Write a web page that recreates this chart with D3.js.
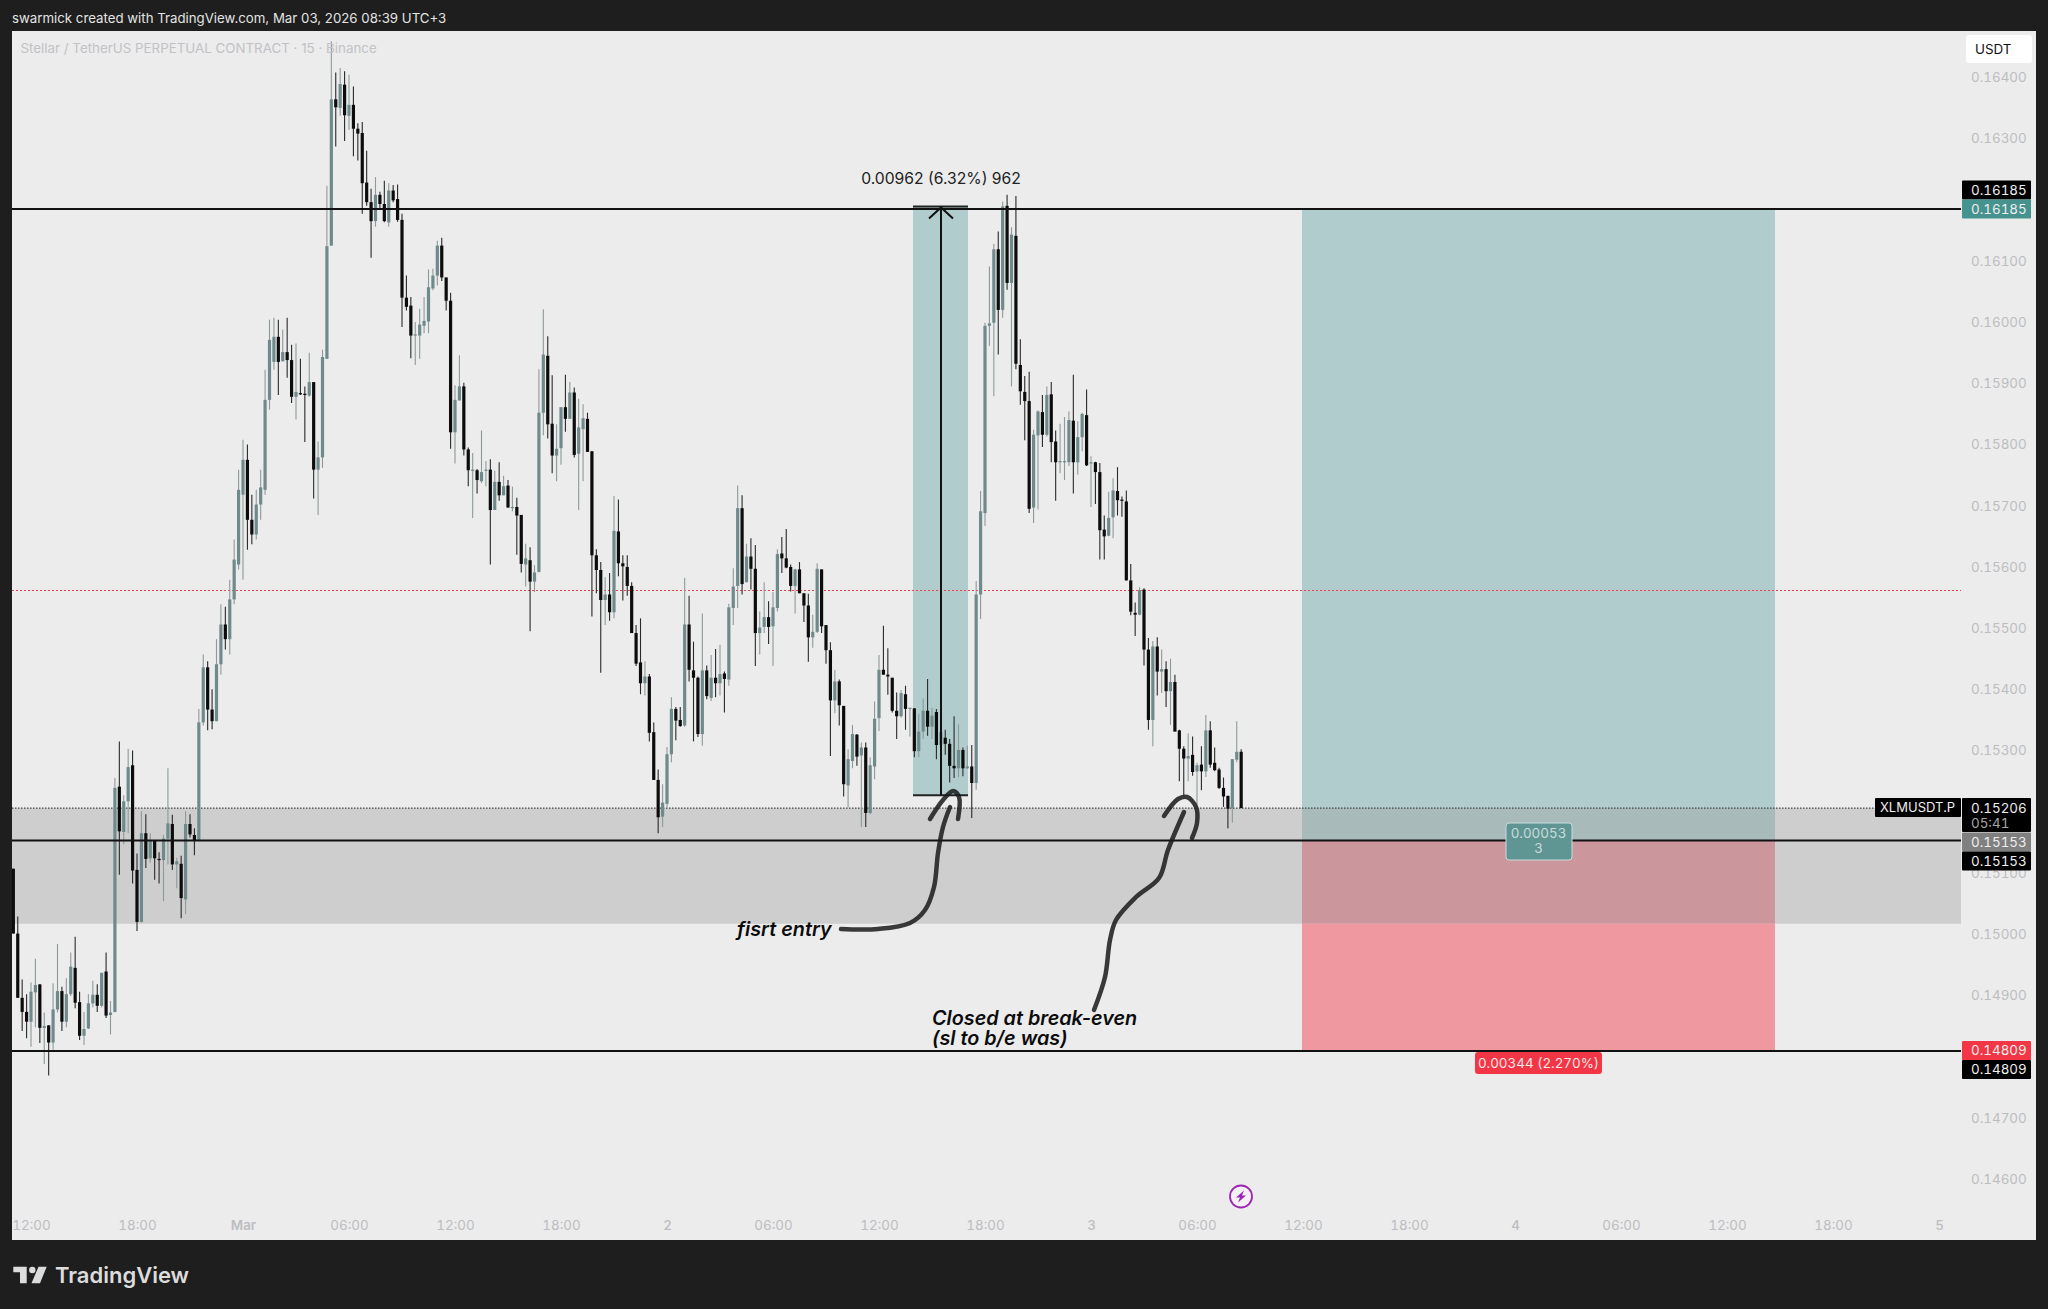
<!DOCTYPE html>
<html>
<head>
<meta charset="utf-8">
<script src="https://cdn.jsdelivr.net/npm/d3@7"></script>
<style>
  html, body { margin: 0; padding: 0; background: #1e1e1e; }
  svg { display: block; font-family: Inter, "Noto Sans", sans-serif; }
  svg text { font-variant-numeric: tabular-nums; }
  svg text.plain { font-variant-numeric: normal; }
</style>
</head>
<body>
<svg width="2048" height="1309"></svg>
<script>
// prices in 1e-5 USDT, one entry per 15 min candle, first candle 2026-02-28 11:00
const startTime = "2026-02-28T11:00:00Z";

const opens = [
15107,15001,14896,14873,14857,14905,14918,14847,14851,14823,
14877,14907,14857,14902,14945,14889,14834,14846,14887,14901,
14883,14939,14868,14873,15241,15167,15217,15276,15105,15020,
15165,15124,15153,15123,15121,15156,15180,15114,15115,15057,
15180,15162,15153,15346,15436,15367,15348,15441,15506,15482,
15547,15604,15718,15775,15677,15653,15702,15726,15873,15935,
15976,15936,15951,15938,15878,15884,15883,15880,15902,15759,
15779,15940,16125,16364,16350,16388,16337,16355,16316,16309,
16228,16196,16165,16208,16193,16163,16215,16201,16167,16040,
16027,15978,15978,15994,16001,16055,16076,16125,16073,16035,
15820,15872,15895,15792,15757,15758,15740,15757,15759,15693,
15739,15717,15733,15696,15698,15685,15604,15611,15576,15592,
15852,15945,15834,15782,15794,15861,15842,15885,15785,15825,
15842,15789,15619,15595,15546,15555,15526,15658,15606,15600,
15569,15492,15444,15410,15421,15330,15252,15192,15213,15294,
15368,15350,15341,15506,15431,15419,15327,15431,15386,15419,
15410,15426,15416,15533,15569,15696,15575,15617,15597,15492,
15502,15518,15503,15533,15622,15614,15600,15569,15596,15557,
15537,15485,15494,15596,15505,15464,15382,15413,15373,15243,
15283,15326,15292,15305,15198,15274,15353,15432,15424,15419,
15365,15356,15392,15368,15369,15299,15331,15365,15339,15363,
15309,15321,15311,15275,15271,15301,15271,15274,15247,15555,
15688,15994,15999,16119,16020,16190,16064,16141,15930,15886,
15871,15697,15815,15853,15816,15882,15805,15771,15771,15771,
15839,15771,15812,15848,15769,15771,15755,15661,15651,15681,
15724,15710,15707,15578,15525,15522,15563,15465,15350,15470,
15429,15433,15397,15412,15333,15303,15287,15293,15266,15277,
15266,15333,15280,15269,15239,15226,15206,15285,15298];

const highs = [
15107,15029,14926,14902,14921,14960,14918,14872,14851,14920,
14984,14914,14928,14970,14996,14906,14873,14902,14924,14918,
14937,14970,14891,15255,15315,15227,15303,15300,15132,15201,
15196,15165,15153,15134,15162,15271,15195,15125,15128,15201,
15196,15173,15368,15457,15446,15400,15482,15539,15535,15579,
15645,15759,15808,15800,15718,15726,15759,15922,16004,16007,
16004,15988,16007,15963,15965,15940,15895,15950,15902,15805,
15955,16223,16459,16408,16415,16410,16404,16385,16325,16327,
16280,16218,16237,16213,16231,16227,16224,16225,16177,16076,
16041,16000,16022,16041,16086,16087,16133,16138,16073,16048,
15897,15946,15901,15795,15786,15760,15823,15773,15776,15757,
15771,15749,15742,15731,15713,15685,15638,15632,15603,15923,
16021,15977,15913,15833,15861,15914,15902,15893,15875,15866,
15852,15789,15629,15608,15583,15590,15716,15710,15619,15619,
15575,15505,15516,15446,15425,15346,15269,15245,15306,15387,
15371,15371,15582,15553,15478,15421,15524,15439,15456,15466,
15473,15429,15540,15598,15733,15717,15638,15647,15636,15527,
15575,15544,15559,15629,15649,15662,15604,15597,15608,15557,
15556,15522,15606,15596,15505,15477,15432,15416,15373,15302,
15342,15327,15313,15313,15289,15380,15456,15504,15467,15419,
15395,15399,15406,15370,15369,15360,15385,15417,15370,15368,
15330,15334,15319,15356,15343,15305,15308,15309,15577,15724,
15999,16091,16128,16148,16197,16208,16155,16206,15972,15912,
15919,15824,15856,15881,15895,15902,15823,15834,15845,15854,
15914,15838,15852,15890,15781,15772,15770,15684,15723,15745,
15763,15715,15725,15605,15542,15567,15565,15484,15479,15485,
15465,15446,15450,15424,15334,15307,15328,15323,15280,15307,
15358,15348,15305,15272,15256,15226,15286,15348,15302];

const lows = [
15001,14896,14842,14830,14816,14848,14822,14788,14769,14811,
14872,14842,14848,14899,14879,14827,14819,14845,14880,14873,
14880,14863,14836,14872,15097,15147,15165,15083,15005,15019,
15108,15117,15089,15083,15054,15114,15105,15075,15026,15033,
15158,15129,15153,15341,15333,15335,15348,15424,15465,15457,
15539,15596,15579,15628,15637,15645,15677,15718,15857,15922,
15881,15936,15909,15868,15841,15881,15804,15878,15712,15685,
15762,15940,16125,16287,16337,16296,16314,16271,16264,16177,
16190,16105,16156,16186,16163,16156,16196,16164,15992,16019,
15941,15930,15940,15982,15982,16052,16060,16067,16019,15793,
15769,15872,15782,15732,15680,15720,15737,15732,15604,15693,
15708,15717,15697,15691,15620,15591,15568,15495,15559,15591,
15815,15810,15753,15740,15767,15821,15842,15779,15693,15740,
15788,15519,15557,15427,15505,15512,15516,15585,15545,15553,
15492,15438,15392,15390,15315,15252,15165,15175,15207,15281,
15317,15339,15339,15413,15315,15322,15308,15384,15381,15387,
15390,15362,15406,15505,15533,15555,15575,15563,15438,15457,
15492,15474,15438,15527,15590,15598,15560,15524,15557,15510,
15445,15468,15492,15492,15442,15291,15361,15341,15225,15207,
15271,15275,15175,15175,15196,15253,15332,15424,15391,15362,
15319,15354,15334,15323,15289,15289,15319,15324,15319,15286,
15264,15293,15248,15255,15256,15258,15270,15190,15236,15515,
15667,15961,15879,15947,16007,16053,15895,15923,15865,15807,
15688,15672,15694,15796,15813,15771,15708,15753,15742,15765,
15720,15751,15789,15765,15698,15703,15612,15612,15650,15647,
15684,15682,15578,15521,15487,15521,15439,15334,15307,15390,
15394,15371,15342,15331,15250,15226,15250,15259,15209,15235,
15257,15272,15266,15237,15208,15173,15182,15281,15206];

const closes = [
15001,14896,14873,14857,14906,14917,14847,14850,14823,14877,
14907,14857,14902,14947,14888,14834,14845,14887,14901,14883,
14937,14867,14872,15239,15168,15217,15273,15104,15020,15165,
15123,15154,15124,15121,15156,15181,15114,15119,15059,15180,
15163,15153,15346,15436,15367,15348,15441,15506,15482,15547,
15612,15726,15775,15677,15653,15702,15730,15873,15971,15976,
15935,15951,15938,15878,15886,15882,15881,15902,15759,15779,
15943,16124,16364,16351,16389,16338,16355,16316,16308,16227,
16196,16165,16208,16193,16165,16215,16199,16167,16040,16025,
15978,15980,15996,16002,16057,16076,16125,16073,16035,15820,
15873,15895,15792,15758,15759,15742,15755,15759,15693,15739,
15717,15732,15697,15698,15684,15605,15614,15576,15591,15852,
15947,15833,15782,15793,15861,15842,15885,15783,15828,15843,
15788,15619,15595,15546,15555,15526,15659,15606,15601,15569,
15492,15442,15410,15421,15329,15252,15191,15215,15294,15368,
15349,15340,15506,15432,15419,15327,15431,15389,15419,15410,
15425,15417,15534,15568,15696,15572,15617,15597,15492,15501,
15518,15502,15534,15621,15614,15599,15569,15596,15557,15537,
15485,15494,15597,15503,15464,15382,15413,15374,15245,15286,
15327,15290,15305,15198,15276,15352,15432,15424,15421,15365,
15356,15394,15368,15370,15299,15331,15365,15339,15357,15309,
15330,15311,15275,15271,15301,15271,15274,15247,15555,15691,
15994,15998,16119,16020,16189,16064,16143,15932,15887,15871,
15695,15816,15854,15816,15881,15804,15771,15773,15773,15840,
15771,15812,15850,15766,15771,15755,15660,15650,15680,15725,
15709,15708,15578,15527,15522,15562,15465,15350,15470,15429,
15433,15397,15412,15331,15303,15287,15291,15265,15276,15266,
15333,15277,15268,15239,15225,15205,15286,15298,15206];

// 0.16200, 0.15200 and 0.14800 sit behind the price tags, so they are left out
const priceTicks = [16400,16300,16100,16000,15900,15800,15700,15600,15500,15400,15300,15100,15000,14900,14700,14600];

const timeTicks = ["2026-02-28T12:00","2026-02-28T18:00","2026-03-01T00:00","2026-03-01T06:00","2026-03-01T12:00","2026-03-01T18:00","2026-03-02T00:00","2026-03-02T06:00","2026-03-02T12:00","2026-03-02T18:00","2026-03-03T00:00","2026-03-03T06:00","2026-03-03T12:00","2026-03-03T18:00","2026-03-04T00:00","2026-03-04T06:00","2026-03-04T12:00","2026-03-04T18:00","2026-03-05T00:00"];
const timeLabels = ["12:00","18:00","Mar","06:00","12:00","18:00","2","06:00","12:00","18:00","3","06:00","12:00","18:00","4","06:00","12:00","18:00","5"];

// drawn levels
const targetPrice = 16185;
const entryPrice = 15153;
const stopPrice = 14809;
const lastPrice = 15206;
const redLinePrice = 15563;
const zoneBottom = 15017;
const measureLow = 15227;
const measureHigh = 16189;

main();

function main() {
  const svg = d3.select("svg");
  const width = 2048;
  const height = 1309;
  const plotLeft = 12;
  const plotTop = 31;
  const plotRight = 2036;
  const plotBottom = 1240;
  const paneRight = 1961;

  const xScale = d3
    .scaleUtc()
    .domain([new Date("2026-02-28T12:00Z"), new Date("2026-03-05T00:00Z")])
    .range([31, 1939]);
  const yScale = d3.scaleLinear().domain([16400, 14600]).range([77.3, 1179]);

  const t0 = new Date(startTime).getTime();
  const candleTime = (i) => new Date(t0 + i * 15 * 60 * 1000);
  const y = (v) => yScale(v);

  svg.append("rect").attr("width", width).attr("height", height).attr("fill", "#1e1e1e");
  svg
    .append("rect")
    .attr("x", plotLeft)
    .attr("y", plotTop)
    .attr("width", plotRight - plotLeft)
    .attr("height", plotBottom - plotTop)
    .attr("fill", "#ececec");

  svg
    .append("clipPath")
    .attr("id", "plot-clip")
    .append("rect")
    .attr("x", plotLeft)
    .attr("y", plotTop)
    .attr("width", plotRight - plotLeft)
    .attr("height", plotBottom - plotTop);

  const plot = svg.append("g").attr("clip-path", "url(#plot-clip)");

  // grey zone
  plot
    .append("rect")
    .attr("x", plotLeft)
    .attr("y", y(lastPrice))
    .attr("width", paneRight - plotLeft)
    .attr("height", y(zoneBottom) - y(lastPrice))
    .attr("fill", "#cecece");

  // position tool, split where it crosses the zone
  const posLeft = 1302;
  const posRight = 1775;
  const posBands = [
    [targetPrice, lastPrice, "#b0cccc"],
    [lastPrice, entryPrice, "#a8baba"],
    [entryPrice, zoneBottom, "#cb979d"],
    [zoneBottom, stopPrice, "#f0989f"],
  ];
  plot
    .selectAll(".pos-band")
    .data(posBands)
    .join("rect")
    .attr("class", "pos-band")
    .attr("x", posLeft)
    .attr("y", (d) => y(d[0]))
    .attr("width", posRight - posLeft)
    .attr("height", (d) => y(d[1]) - y(d[0]))
    .attr("fill", (d) => d[2]);

  // measure box, candles sit on top of it
  const measureLeft = 913;
  const measureRight = 968;
  const measureMid = 941;
  plot
    .append("rect")
    .attr("x", measureLeft)
    .attr("y", y(measureHigh))
    .attr("width", measureRight - measureLeft)
    .attr("height", y(measureLow) - y(measureHigh))
    .attr("fill", "#b0cccc");

  // dotted lines
  plot
    .append("line")
    .attr("x1", plotLeft)
    .attr("x2", paneRight)
    .attr("y1", Math.round(y(redLinePrice)) + 0.5)
    .attr("y2", Math.round(y(redLinePrice)) + 0.5)
    .attr("stroke", "#ee3f4c")
    .attr("stroke-dasharray", "2 2");
  plot
    .append("line")
    .attr("x1", plotLeft)
    .attr("x2", 1875)
    .attr("y1", y(lastPrice))
    .attr("y2", y(lastPrice))
    .attr("stroke", "#222")
    .attr("stroke-dasharray", "1.5 1.5");

  // candles
  const idx = d3.range(opens.length);
  const upColor = "#6f8a8b";
  const upWick = "#8e9a9a";
  const downColor = "#0c0c0c";
  const downWick = "#2a2a2a";
  const isUp = (i) => closes[i] >= opens[i];

  const candles = plot.append("g").attr("id", "candles");
  candles
    .selectAll("line")
    .data(idx)
    .join("line")
    .attr("x1", (i) => xScale(candleTime(i)))
    .attr("x2", (i) => xScale(candleTime(i)))
    .attr("y1", (i) => y(highs[i]))
    .attr("y2", (i) => y(lows[i]))
    .attr("stroke", (i) => (isUp(i) ? upWick : downWick))
    .attr("stroke-width", 1.1);
  candles
    .selectAll("rect")
    .data(idx)
    .join("rect")
    .attr("x", (i) => xScale(candleTime(i)) - 1.6)
    .attr("width", 3.2)
    .attr("y", (i) => y(Math.max(opens[i], closes[i])))
    .attr("height", (i) => Math.max(1, Math.abs(y(opens[i]) - y(closes[i]))))
    .attr("fill", (i) => (isUp(i) ? upColor : downColor));

  // solid levels
  plot
    .selectAll(".level")
    .data([targetPrice, entryPrice, stopPrice])
    .join("line")
    .attr("class", "level")
    .attr("x1", plotLeft)
    .attr("x2", paneRight)
    .attr("y1", (d) => y(d))
    .attr("y2", (d) => y(d))
    .attr("stroke", "#111")
    .attr("stroke-width", 2);

  // measure tool bars and arrow
  [measureHigh, measureLow].forEach((p) => {
    plot
      .append("line")
      .attr("x1", measureLeft)
      .attr("x2", measureRight)
      .attr("y1", y(p))
      .attr("y2", y(p))
      .attr("stroke", "#222")
      .attr("stroke-width", 2);
  });
  plot
    .append("line")
    .attr("x1", measureMid)
    .attr("x2", measureMid)
    .attr("y1", y(measureHigh))
    .attr("y2", y(measureLow))
    .attr("stroke", "#111")
    .attr("stroke-width", 2);
  plot
    .append("path")
    .attr("d", `M${measureMid - 12},${y(measureHigh) + 12}L${measureMid},${y(measureHigh) + 1}L${measureMid + 12},${y(measureHigh) + 12}`)
    .attr("fill", "none")
    .attr("stroke", "#111")
    .attr("stroke-width", 2);
  svg
    .append("text")
    .attr("class", "plain")
    .attr("x", measureMid)
    .attr("y", 184)
    .attr("text-anchor", "middle")
    .attr("font-size", 15.7)
    .attr("fill", "#222")
    .text("0.00962 (6.32%) 962");

  // hand drawn strokes
  const brush = d3.line().curve(d3.curveCatmullRom);
  const strokes = [
    [[841, 929], [878, 929], [910, 923], [925, 910], [934, 887], [938, 853], [943, 827], [950, 807]],
    [[930, 819], [943, 800], [953, 791], [959, 797], [958, 819]],
    [[1094, 1010], [1105, 977], [1110, 940], [1116, 920], [1136, 897], [1159, 878], [1168, 850], [1184, 812]],
    [[1164, 816], [1178, 799], [1187, 797], [1196, 807], [1197, 823], [1192, 838]],
  ];
  plot
    .selectAll(".brush")
    .data(strokes)
    .join("path")
    .attr("class", "brush")
    .attr("d", (d) => brush(d))
    .attr("fill", "none")
    .attr("stroke", "#1a1a1a")
    .attr("stroke-opacity", 0.85)
    .attr("stroke-width", 4.5)
    .attr("stroke-linecap", "round");

  const notes = [
    ["fisrt entry", 737, 936],
    ["Closed at break-even", 932, 1025],
    ["(sl to b/e was)", 932, 1045],
  ];
  svg
    .selectAll(".note")
    .data(notes)
    .join("text")
    .attr("class", "note plain")
    .attr("x", (d) => d[1])
    .attr("y", (d) => d[2])
    .attr("font-size", 19.8)
    .attr("font-weight", 600)
    .attr("font-style", "italic")
    .attr("fill", "#0c0c0c")
    .text((d) => d[0]);

  // axes
  const yAxis = d3
    .axisRight(yScale)
    .tickValues(priceTicks)
    .tickSize(0)
    .tickPadding(0)
    .tickFormat((d) => (d / 1e5).toFixed(5));
  const yAxisG = svg.append("g").attr("transform", "translate(1971,0)").call(yAxis);
  yAxisG.select(".domain").remove();
  yAxisG.selectAll("text").attr("font-size", 13.4).attr("font-family", "Inter").attr("fill", "#bdbdc1");

  const xAxis = d3
    .axisBottom(xScale)
    .tickValues(timeTicks.map((d) => new Date(d + "Z")))
    .tickSize(0)
    .tickPadding(0)
    .tickFormat((d, i) => timeLabels[i]);
  const xAxisG = svg.append("g").attr("transform", "translate(0,1220)").call(xAxis);
  xAxisG.select(".domain").remove();
  xAxisG
    .selectAll("text")
    .attr("font-size", 13.4)
    .attr("font-family", "Inter")
    .attr("fill", "#bdbdc1")
    .attr("font-weight", (d, i) => (timeLabels[i] === "Mar" ? 600 : /^\d$/.test(timeLabels[i]) ? 500 : 400));

  // price labels on the right
  const tags = [
    [targetPrice, -28.5, "#000", "#eee"],
    [targetPrice, -9.5, "#45928e", "#eee"],
    [entryPrice, -8, "#808080", "#eee"],
    [entryPrice, 11, "#000", "#eee"],
    [stopPrice, -10, "#f23645", "#eee"],
    [stopPrice, 9, "#000", "#eee"],
  ];
  tags.forEach(([p, off, bg, fg]) => {
    const top = y(p) + off;
    svg.append("rect").attr("x", 1962).attr("y", top).attr("width", 69).attr("height", 19).attr("rx", 1).attr("fill", bg);
    svg
      .append("text")
      .attr("x", 1971)
      .attr("y", top + 14.2)
      .attr("font-size", 13.4)
      .attr("fill", fg)
      .text((p / 1e5).toFixed(5));
  });

  const lastTop = y(lastPrice) - 10;
  svg.append("rect").attr("x", 1962).attr("y", lastTop).attr("width", 69).attr("height", 34).attr("rx", 1).attr("fill", "#000");
  svg.append("text").attr("x", 1971).attr("y", lastTop + 15).attr("font-size", 13.4).attr("fill", "#eee").text((lastPrice / 1e5).toFixed(5));
  svg.append("text").attr("x", 1971).attr("y", lastTop + 30).attr("font-size", 13.4).attr("fill", "#a6a6a6").text("05:41");
  svg.append("rect").attr("x", 1875).attr("y", lastTop).attr("width", 86).attr("height", 19).attr("rx", 1).attr("fill", "#000");
  svg.append("text").attr("x", 1880).attr("y", lastTop + 14.2).attr("font-size", 13).attr("fill", "#eee").text("XLMUSDT.P");

  // USDT button
  svg.append("rect").attr("x", 1966).attr("y", 35).attr("width", 66).attr("height", 28).attr("rx", 3).attr("fill", "#fff");
  svg.append("text").attr("x", 1975).attr("y", 54).attr("font-size", 13.4).attr("fill", "#111").text("USDT");

  // position labels
  const posMid = (posLeft + posRight) / 2;
  svg.append("rect").attr("x", 1506).attr("y", 823).attr("width", 66).attr("height", 37).attr("rx", 3).attr("fill", "#5f9694").attr("stroke", "#c9dcdc").attr("stroke-width", 1);
  svg.append("text").attr("x", posMid).attr("y", 838).attr("text-anchor", "middle").attr("font-size", 13.4).attr("fill", "#c9dcdc").text("0.00053");
  svg.append("text").attr("x", posMid).attr("y", 853).attr("text-anchor", "middle").attr("font-size", 13.4).attr("fill", "#c9dcdc").text("3");
  svg.append("rect").attr("x", 1475).attr("y", 1052).attr("width", 127).attr("height", 22).attr("rx", 3).attr("fill", "#f23645");
  svg.append("text").attr("x", posMid).attr("y", 1068).attr("text-anchor", "middle").attr("font-size", 13.4).attr("fill", "#f7e6e8").text("0.00344 (2.270%)");

  // titles
  svg.append("text").attr("class", "plain").attr("x", 12).attr("y", 23).attr("font-size", 13.25).attr("fill", "#e4e4e4").text("swarmick created with TradingView.com, Mar 03, 2026 08:39 UTC+3");
  svg.append("text").attr("class", "plain").attr("x", 20.5).attr("y", 53).attr("font-size", 13.35).attr("fill", "#c2c2c6").text("Stellar / TetherUS PERPETUAL CONTRACT · 15 · Binance");

  // lightning mark
  const bolt = svg.append("g").attr("transform", "translate(1241,1196.5)");
  bolt.append("circle").attr("r", 11).attr("fill", "#f4f0f5").attr("stroke", "#9c27b0").attr("stroke-width", 1.8);
  bolt.append("path").attr("d", "M3,-6L-5,1H-1L-3,6L5,-1H1Z").attr("fill", "#9c27b0");

  // footer logo
  const logo = svg.append("g").attr("fill", "#dcdcdc");
  logo.append("path").attr("d", "M13.3,1266.7H26.7V1283.3H20V1272.3H13.3Z");
  logo.append("circle").attr("cx", 32.3).attr("cy", 1270).attr("r", 3.2);
  logo.append("path").attr("d", "M38.5,1266.7H46.7L40,1283.3H31.5Z");
  svg.append("text").attr("class", "plain").attr("x", 55).attr("y", 1283).attr("font-size", 22).attr("font-weight", 600).attr("fill", "#dcdcdc").text("TradingView");
}
</script>
</body>
</html>
